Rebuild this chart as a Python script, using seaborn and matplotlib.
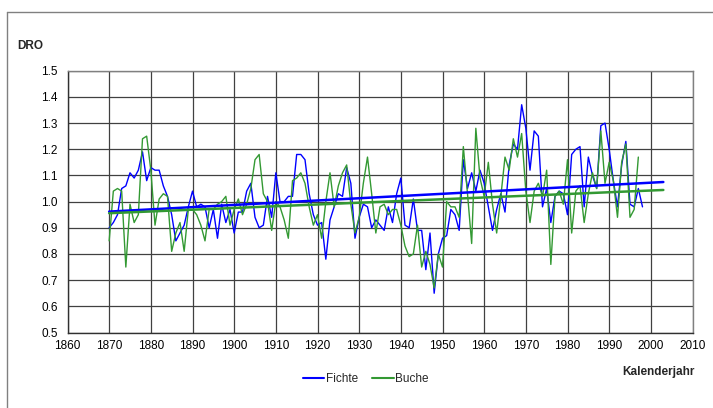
import numpy as np
import pandas as pd
import matplotlib
matplotlib.use("Agg")
import matplotlib.pyplot as plt
from matplotlib.lines import Line2D
import seaborn as sns

# ---- data -------------------------------------------------------------
fichte_years = list(range(1870, 1999))
fichte = [0.90, 0.92, 0.95, 1.05, 1.06, 1.11, 1.09, 1.12, 1.19, 1.08,
          1.13, 1.12, 1.12, 1.06, 1.02, 0.95, 0.85, 0.88, 0.91, 0.98,
          1.04, 0.98, 0.99, 0.98, 0.90, 0.97, 0.86, 0.99, 0.92, 0.97,
          0.88, 0.96, 0.96, 1.04, 1.07, 0.94, 0.90, 0.91, 1.02, 0.94,
          1.11, 1.00, 1.00, 1.02, 1.02, 1.18, 1.18, 1.16, 1.03, 0.95,
          0.91, 0.92, 0.78, 0.93, 0.98, 1.03, 1.02, 1.13, 1.07, 0.86,
          0.94, 0.99, 0.98, 0.90, 0.93, 0.91, 0.89, 0.98, 0.92, 1.03,
          1.09, 0.91, 0.90, 1.01, 0.89, 0.89, 0.74, 0.88, 0.65, 0.80,
          0.86, 0.87, 0.97, 0.95, 0.89, 1.16, 1.05, 1.11, 1.04, 1.12,
          1.07, 0.98, 0.89, 0.97, 1.03, 0.96, 1.14, 1.22, 1.20, 1.37,
          1.28, 1.12, 1.27, 1.25, 0.98, 1.05, 0.92, 1.02, 1.04, 1.03,
          0.95, 1.18, 1.20, 1.21, 0.98, 1.17, 1.10, 1.05, 1.29, 1.30,
          1.20, 1.08, 0.98, 1.14, 1.23, 0.99, 0.98, 1.05, 0.98]

buche_years = list(range(1870, 1998))
buche = [0.85, 1.04, 1.05, 1.04, 0.75, 0.99, 0.92, 0.95, 1.24, 1.25,
         1.12, 0.91, 1.01, 1.03, 1.02, 0.81, 0.88, 0.92, 0.81, 0.97,
         0.97, 0.95, 0.91, 0.85, 0.97, 0.97, 0.99, 1.00, 1.02, 0.91,
         0.97, 1.01, 0.95, 0.99, 1.05, 1.16, 1.18, 1.03, 1.00, 0.89,
         1.00, 0.98, 0.93, 0.86, 1.08, 1.09, 1.11, 1.07, 0.98, 0.91,
         0.95, 0.86, 1.00, 1.11, 0.98, 1.06, 1.11, 1.14, 0.99, 0.88,
         0.94, 1.07, 1.17, 1.03, 0.88, 0.98, 0.99, 0.95, 0.97, 0.97,
         0.91, 0.83, 0.79, 0.80, 0.91, 0.75, 0.81, 0.76, 0.67, 0.80,
         0.75, 1.00, 0.98, 0.98, 0.94, 1.21, 1.03, 0.84, 1.28, 1.09,
         1.02, 1.15, 0.99, 0.88, 1.02, 1.17, 1.12, 1.24, 1.17, 1.26,
         1.04, 0.92, 1.04, 1.07, 1.02, 1.12, 0.76, 1.02, 1.04, 0.99,
         1.16, 0.88, 1.04, 1.06, 0.92, 1.03, 1.11, 1.05, 1.27, 1.07,
         1.15, 1.08, 0.94, 1.15, 1.22, 0.94, 0.97, 1.17]

series_names = ["Fichte", "Buche"]
trend_end_year = 2003
x_ticks = list(range(1860, 2011, 10))
y_ticks = [0.5, 0.6, 0.7, 0.8, 0.9, 1.0, 1.1, 1.2, 1.3, 1.4, 1.5]
y_tick_labels = ["0.5", "0.6", "0.7", "0.8", "0.9", "1.0", "1.1", "1.2", "1.3", "1.4", "1.5"]

# ---- style ------------------------------------------------------------
sns.set_theme(style="white")
plt.rcParams['font.family'] = ['Liberation Sans', 'DejaVu Sans']

BLUE = "#0000FF"
GREEN = "#339933"

W, H = 713, 408
fig = plt.figure(figsize=(W / 100, H / 100), dpi=100)
left, right, top, bottom = 67.5, 692.5, 70.7, 332.5
ax = fig.add_axes([left / W, 1 - bottom / H, (right - left) / W, (bottom - top) / H])

df_f = pd.DataFrame({"Jahr": fichte_years, "DRO": fichte})
df_b = pd.DataFrame({"Jahr": buche_years, "DRO": buche})

sns.lineplot(data=df_f, x="Jahr", y="DRO", color=BLUE, lw=1.0, ax=ax, zorder=3)
sns.lineplot(data=df_b, x="Jahr", y="DRO", color=GREEN, lw=1.0, ax=ax, zorder=3)

# linear trend lines (least squares, extended to trend_end_year)
for yrs, vals, col in [(fichte_years, fichte, BLUE), (buche_years, buche, GREEN)]:
    p = np.polyfit(yrs, vals, 1)
    tx = np.array([yrs[0], trend_end_year])
    ax.plot(tx, np.polyval(p, tx), color=col, lw=1.8, zorder=4)

ax.set_xlim(1860, 2010)
ax.set_ylim(0.5, 1.5)
ax.set_xticks(x_ticks)
ax.set_yticks(y_ticks)
ax.set_yticklabels(y_tick_labels)
ax.set_xlabel("")
ax.set_ylabel("")

ax.grid(True, color="#404040", lw=0.9, zorder=1)
ax.set_axisbelow(True)

for s in ["left", "bottom"]:
    ax.spines[s].set_color("#303030")
    ax.spines[s].set_linewidth(1.0)
for s in ["top", "right"]:
    ax.spines[s].set_color("#808080")
    ax.spines[s].set_linewidth(1.0)

ax.tick_params(axis="both", which="major", direction="inout", length=6, width=0.8,
               color="#303030", labelsize=8.5, labelcolor="#000000")
ax.tick_params(axis="y", pad=4)
ax.tick_params(axis="x", pad=2.5)

# axis titles
fig.text(17 / W, 1 - 46 / H, "DRO", fontsize=8.5, fontweight="bold", ha="left", va="center")
fig.text(695 / W, 1 - 372 / H, "Kalenderjahr", fontsize=8.5, fontweight="bold",
         ha="right", va="center")

# legend
handles = [Line2D([0], [0], color=BLUE, lw=1.5), Line2D([0], [0], color=GREEN, lw=1.5)]
fig.legend(handles, series_names, loc="center", bbox_to_anchor=(366 / W, 1 - 379 / H),
           ncol=2, frameon=False, fontsize=8.5, handlelength=1.8, handletextpad=0.15,
           columnspacing=1.2)

# chart-area border (left and top visible)
fig.add_artist(Line2D([7 / W, 7 / W], [0, 1 - 12 / H], transform=fig.transFigure,
                      color="#808080", lw=1.0))
fig.add_artist(Line2D([7 / W, 1], [1 - 12 / H, 1 - 12 / H], transform=fig.transFigure,
                      color="#808080", lw=1.0))

fig.savefig("out.png", dpi=100)
